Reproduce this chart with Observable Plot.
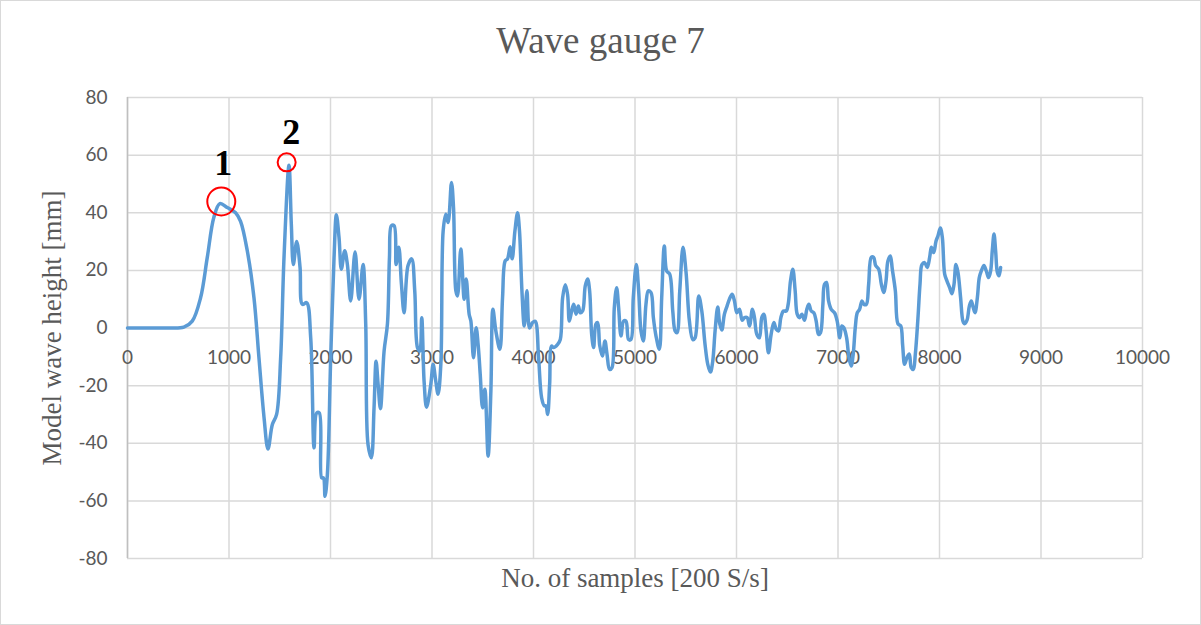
<!DOCTYPE html>
<html>
<head>
<meta charset="utf-8">
<script src="https://cdn.jsdelivr.net/npm/d3@7"></script>
<script src="https://cdn.jsdelivr.net/npm/@observablehq/plot@0.6"></script>
<style>
  html, body { margin: 0; padding: 0; background: #fff; }
  #chart { width: 1199px; height: 623px; border: 1px solid #d9d9d9; position: relative; overflow: hidden; }
  #title { height: 70px; box-sizing: border-box; padding-top: 19px; text-align: center;
           font-family: "Liberation Serif", "Times New Roman", serif; font-size: 37px; line-height: 42px; color: #595959; }
  svg { display: block; }
</style>
</head>
<body>
<div id="chart"><div id="title">Wave gauge 7</div></div>
<script>
const titleText = "Wave gauge 7";
const xLabel = "No. of samples [200 S/s]";
const yLabel = "Model wave height [mm]";
const xTicks = [0, 1000, 2000, 3000, 4000, 5000, 6000, 7000, 8000, 9000, 10000];
const yTicks = [-80, -60, -40, -20, 0, 20, 40, 60, 80];

const sampleNo = [0,200,400,555,638,720,786,851,910,983,1065,1114,1180,1246,1295,1345,1384,1427,1469,1509,1542,1591,1614,1634,1667,1700,1723,1765,1805,1838,1864,1890,1913,1930,1946,1969,2002,2035,2058,2084,2107,2140,2166,2199,2242,2281,2321,2347,2370,2403,2429,2449,2469,2492,2528,2561,2581,2600,2627,2646,2673,2699,2725,2764,2800,2830,2857,2880,2899,2922,2946,2988,3011,3037,3060,3087,3110,3136,3159,3192,3212,3235,3251,3284,3317,3337,3366,3383,3409,3435,3455,3475,3498,3521,3553,3580,3600,3629,3669,3695,3721,3744,3770,3790,3817,3843,3862,3886,3909,3935,3961,3991,4017,4050,4080,4106,4122,4139,4159,4178,4198,4238,4264,4287,4313,4336,4353,4376,4396,4419,4442,4461,4484,4510,4533,4553,4573,4592,4615,4632,4652,4678,4704,4724,4750,4773,4796,4819,4839,4862,4888,4911,4937,4960,4983,5013,5036,5059,5082,5108,5131,5158,5181,5207,5240,5263,5289,5312,5342,5372,5395,5414,5441,5473,5503,5536,5569,5592,5628,5658,5690,5717,5743,5766,5789,5815,5835,5855,5881,5907,5930,5957,5980,6003,6029,6056,6079,6105,6128,6157,6177,6200,6226,6249,6269,6292,6315,6341,6368,6391,6414,6437,6463,6490,6509,6532,6555,6578,6598,6621,6644,6670,6693,6713,6736,6762,6785,6808,6828,6851,6867,6887,6907,6933,6966,6992,7018,7038,7058,7085,7108,7130,7150,7170,7190,7213,7236,7256,7279,7302,7328,7351,7371,7401,7427,7450,7473,7492,7516,7535,7565,7591,7618,7637,7656,7679,7702,7722,7742,7762,7788,7808,7827,7854,7880,7903,7920,7943,7966,7985,8008,8028,8051,8074,8100,8123,8143,8162,8182,8208,8231,8248,8271,8294,8313,8333,8350,8373,8392,8412,8438,8461,8484,8504,8520,8537,8553,8570,8586,8602];
const waveHeight = [0,0,0,0.3,2.4,10.5,24.5,38.4,43.2,41.8,40,37,26.8,10.5,-10.3,-31,-42,-33.5,-30,-10.3,24.5,56.5,36,22,30,21,8.2,8.8,-3.4,-41.6,-29.5,-29.5,-52,-52,-58.4,-51,-10.3,24.5,39.3,31.4,20.4,26.8,22.1,9.4,26.4,10,22,1.4,-40.5,-45,-27.7,-11.5,-19.5,-28,-8,1.4,24.5,35.5,35.5,22,28,15.2,5.3,21.7,24,12.9,-6.8,-8,3.6,-18.4,-27.5,-19.6,-12.6,-18.4,-23,-12.6,33.7,39.5,36.6,50.5,41.8,12.9,11.1,27.4,10,17,4.8,2.4,-10.3,0.1,-6,-16,-27.7,-21.3,-44.5,-22,6.5,-1,-7.4,10.5,23.3,24,28.2,24,33.7,40,33.7,12.9,0.7,12.9,0,1.9,2.3,-10.3,-24.2,-27,-27,-30,-19.5,-6.3,-6.8,-5.7,-4,10.5,15,11.5,2.4,5.9,8.2,4.8,7.6,5.3,5.9,14.6,17,12.9,-2.2,-6.8,1.4,1.9,-6,-9.7,-4.5,-9,-14.4,-13.8,7,14,7,-2.8,2.4,2.4,-4,-4,10.5,22,12.9,-1,-4.5,8.2,12.9,12.3,3.6,-2.8,-7.4,10.5,28.5,19.8,18.7,5.9,-1,-1.6,12.9,28,19.3,2.4,-4,-3.4,11.1,5.9,-5.7,-12.6,-15.3,-11.5,-1,7.3,1.4,-0.7,4.8,7.6,10,11.7,9.4,5.3,6.5,2.7,3.6,3.6,0.7,6.5,3.6,-2.2,-3.4,3.6,4.8,-1,-8.6,-2.2,1.9,-0.4,-1,3.6,5.9,5.9,8.2,16.3,20.4,12.9,4.8,3.6,4.8,2.7,6.5,8.2,5.9,5.3,2.4,-2.2,-1.6,8.2,15.2,15.8,9.4,6.5,5.3,2.4,-3.4,0.7,0.1,-3.4,-10.3,-13.2,-9,0.1,5.3,6.5,9.4,8.2,8.2,15.2,24.5,24.5,21.7,20.4,15.2,12.3,16.3,23.3,25,20.4,12.9,1.4,0.7,-6,-12.6,-10.3,-9,-13.8,-14.4,-9,3.6,15.2,22,22.7,21,24.5,28,26.2,30.2,32,34.7,31.4,18.7,16.3,14,11.9,15.2,22,19.3,10.5,2.4,1.5,2.7,7.6,9.4,7,5.3,10.5,17.5,19.8,21.7,19.8,17.5,19.8,26.8,32.6,26.8,19.3,18.1,21];

const markerLabels = ["1", "2"];
const markerX = [924, 1568];
const markerY = [43.9, 57.5];
const markerR = [14, 9];
const labelX = [944, 1614];
const labelY = [57, 67.9];

const data = sampleNo.map((x, i) => ({x, y: waveHeight[i]}));
const markers = markerLabels.map((l, i) => ({l, x: markerX[i], y: markerY[i], r: markerR[i], lx: labelX[i], ly: labelY[i]}));

const tickFont = "Lato, 'Open Sans', sans-serif";
const serif = "'Liberation Serif', 'Times New Roman', serif";

const plot = Plot.plot({
  width: 1199,
  height: 553,
  marginLeft: 126,
  marginRight: 58,
  marginTop: 26,
  marginBottom: 66,
  style: {background: "#fff", overflow: "visible"},
  x: {domain: [0, 10000], axis: null},
  y: {domain: [-80, 80], axis: null},
  r: {type: "identity"},
  marks: [
    Plot.gridX(xTicks, {stroke: "#d9d9d9", strokeOpacity: 1, strokeWidth: 1.5}),
    Plot.gridY(yTicks, {stroke: "#d9d9d9", strokeOpacity: 1, strokeWidth: 1.5}),
    Plot.ruleX([0], {stroke: "#bfbfbf", strokeWidth: 1.5}),
    Plot.axisY(yTicks, {tickSize: 0, tickPadding: 20, tickFormat: d => String(d), fontSize: 19, fontFamily: tickFont, fill: "#595959"}),
    Plot.text(xTicks, {x: d => d, y: 0, dy: 30, text: d => String(d), fontSize: 19, fontFamily: tickFont, fill: "#595959"}),
    Plot.text([xLabel], {frameAnchor: "bottom", dy: 20, lineAnchor: "middle", textAnchor: "middle", text: d => d, fontSize: 27, fontFamily: serif, fill: "#595959"}),
    Plot.text([yLabel], {frameAnchor: "left", dx: -75, rotate: -90, textAnchor: "middle", lineAnchor: "middle", text: d => d, fontSize: 27, fontFamily: serif, fill: "#595959"}),
    Plot.line(data, {x: "x", y: "y", stroke: "#5b9bd5", strokeWidth: 3.5, curve: "catmull-rom", strokeLinejoin: "round"}),
    Plot.dot(markers, {x: "x", y: "y", r: "r", stroke: "#ff0000", strokeWidth: 2, fill: "none"}),
    Plot.text(markers, {x: "lx", y: "ly", text: "l", fontSize: 36, fontWeight: "bold", fontFamily: serif, fill: "#000"})
  ]
});
document.getElementById("chart").appendChild(plot);
</script>
</body>
</html>
